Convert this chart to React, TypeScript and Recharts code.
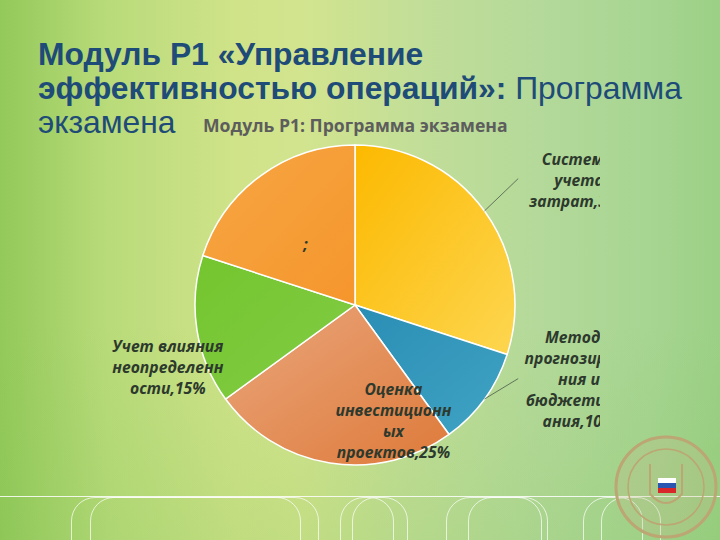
import { PieChart, Pie, Cell } from 'recharts';

// slices, clockwise from 12 o'clock
const categories = [
    'Системы учета затрат',
    'Методы прогнозирования и бюджетирования',
    'Оценка инвестиционных проектов',
    'Учет влияния неопределенности',
    '',
];
const shares = [30, 10, 25, 15, 20];

// how the labels are wrapped on the slide
const labelLines = [
    ['Системы', 'учета', 'затрат,30%'],
    ['Методы', 'прогнозирова', 'ния и', 'бюджетиров', 'ания,10%'],
    ['Оценка', 'инвестиционн', 'ых', 'проектов,25%'],
    ['Учет влияния', 'неопределенн', 'ости,15%'],
    [';'],
];

const data = categories.map((name, i) => ({ name, value: shares[i] }));

const gradients = [
    ['#fcb900', '#fdd650'],
    ['#2a8db4', '#40a4c4'],
    ['#eaa67c', '#de7a3a'],
    ['#74c52e', '#82cc46'],
    ['#f7a644', '#f5962c'],
];

// label centre relative to pie centre, in units of radius
const labelPos = [
    { x: 1.4, y: -0.78, leader: { x: 1.02, y: -0.79 } },
    { x: 1.4, y: 0.46, leader: { x: 1.02, y: 0.46 } },
    { x: 0.24, y: 0.72 },
    { x: -1.17, y: 0.39 },
    { x: -0.31, y: -0.38 },
];

const RAD = Math.PI / 180;
const LH = 21;

// eslint-disable-next-line @typescript-eslint/no-explicit-any
function renderLabel(props: any) {
    const { cx, cy, midAngle, outerRadius, index } = props;
    const p = labelPos[index];
    const lines = labelLines[index];
    const x = cx + p.x * outerRadius;
    const y = cy + p.y * outerRadius;
    const top = y - ((lines.length - 1) / 2) * LH;
    let leader = null;
    if (p.leader) {
        const sx = cx + outerRadius * Math.cos(-midAngle * RAD);
        const sy = cy + outerRadius * Math.sin(-midAngle * RAD);
        leader = (
            <line
                x1={sx}
                y1={sy}
                x2={cx + p.leader.x * outerRadius}
                y2={cy + p.leader.y * outerRadius}
                stroke="#4a5a4a"
                strokeWidth={0.8}
            />
        );
    }
    return (
        <g key={`lbl-${index}`}>
            {leader}
            <text
                x={x}
                y={top}
                textAnchor="middle"
                dominantBaseline="central"
                fontFamily="'Open Sans', 'Noto Sans', sans-serif"
                fontStyle="italic"
                fontWeight={700}
                fontSize={15.7}
                fill="#2d392d"
            >
                {lines.map((l, k) => (
                    <tspan key={k} x={x} dy={k === 0 ? 0 : LH}>{l}</tspan>
                ))}
            </text>
        </g>
    );
}

const frames = [
    { l: 71, w: 230 },
    { l: 90, w: 229 },
    { l: 340, w: 54 },
    { l: 352, w: 56 },
    { l: 446, w: 96 },
    { l: 468, w: 80 },
    { l: 583, w: 60 },
    { l: 601, w: 60 },
];

export default function App() {
    return (
        <div
            style={{
                position: 'fixed',
                left: 0,
                top: 0,
                width: 720,
                height: 540,
                overflow: 'hidden',
                fontFamily: "'Liberation Sans', Arial, sans-serif",
                background:
                    'linear-gradient(90deg, #93c95a 0%, #b9db7a 15%, #d0e389 33%, #d2e48e 42%, #c2de98 58%, #b4d99a 75%, #a7d592 90%, #9cd086 100%)',
            }}
        >
            <div style={{ position: 'absolute', left: 0, top: 0, width: 720, height: 540, background: 'linear-gradient(180deg, rgba(255,255,255,0) 60%, rgba(120,190,80,0.18) 100%)' }} />

            {/* bottom decoration */}
            <div style={{ position: 'absolute', left: 0, top: 496, width: 720, height: 1, background: 'rgba(255,255,255,0.85)' }} />
            {frames.map((f, i) => (
                <div
                    key={i}
                    style={{
                        position: 'absolute',
                        left: f.l,
                        top: 497,
                        width: f.w,
                        height: 80,
                        border: '1px solid rgba(255,255,255,0.7)',
                        borderRadius: '24px 24px 0 0',
                        boxSizing: 'border-box',
                    }}
                />
            ))}

            {/* seal */}
            <svg style={{ position: 'absolute', left: 610, top: 434 }} width={110} height={106}>
                <circle cx={56} cy={53} r={50} fill="rgba(200,185,140,0.25)" stroke="#bca673" strokeWidth={3} />
                <circle cx={56} cy={53} r={38} fill="none" stroke="#bca673" strokeWidth={1.5} />
                <path d="M40 30 L40 60 Q56 78 72 60 L72 30" fill="none" stroke="#bca673" strokeWidth={2} />
                <rect x={48} y={44} width={18} height={5} fill="#ffffff" />
                <rect x={48} y={49} width={18} height={5} fill="#2a55b0" />
                <rect x={48} y={54} width={18} height={5} fill="#d8262b" />
            </svg>

            {/* slide title */}
            <div
                style={{
                    position: 'absolute',
                    left: 38,
                    top: 37,
                    width: 690,
                    fontSize: 31.8,
                    lineHeight: '34px',
                    color: '#1e4b77',
                    whiteSpace: 'nowrap',
                }}
            >
                <b>Модуль Р1 «Управление</b>
                <br />
                <b>эффективностью операций»:</b> Программа
                <br />
                экзамена
            </div>

            <div
                style={{
                    position: 'absolute',
                    left: 203,
                    top: 113,
                    fontFamily: "'Open Sans', 'Noto Sans', sans-serif",
                    fontWeight: 700,
                    fontSize: 17.6,
                    color: '#5d5d5d',
                    whiteSpace: 'nowrap',
                }}
            >
                Модуль Р1: Программа экзамена
            </div>

            {/* the slide crops the chart's right edge */}
            <div style={{ position: 'absolute', left: 0, top: 0, width: 600, height: 540, overflow: 'hidden' }}>
                <PieChart width={612} height={540} margin={{ top: 0, right: 0, bottom: 0, left: 0 }}>
                    <defs>
                        {gradients.map((g, i) => (
                            <linearGradient key={i} id={`slice${i}`} x1="0" y1="0" x2="1" y2="1">
                                <stop offset="0%" stopColor={g[0]} />
                                <stop offset="100%" stopColor={g[1]} />
                            </linearGradient>
                        ))}
                    </defs>
                    <Pie
                        data={data}
                        dataKey="value"
                        nameKey="name"
                        cx={355}
                        cy={305}
                        outerRadius={160}
                        startAngle={90}
                        endAngle={-270}
                        stroke="#ffffff"
                        strokeWidth={1.5}
                        label={renderLabel}
                        labelLine={false}
                        isAnimationActive={false}
                    >
                        {data.map((_, i) => (
                            <Cell key={i} fill={`url(#slice${i})`} />
                        ))}
                    </Pie>
                </PieChart>
            </div>
        </div>
    );
}
